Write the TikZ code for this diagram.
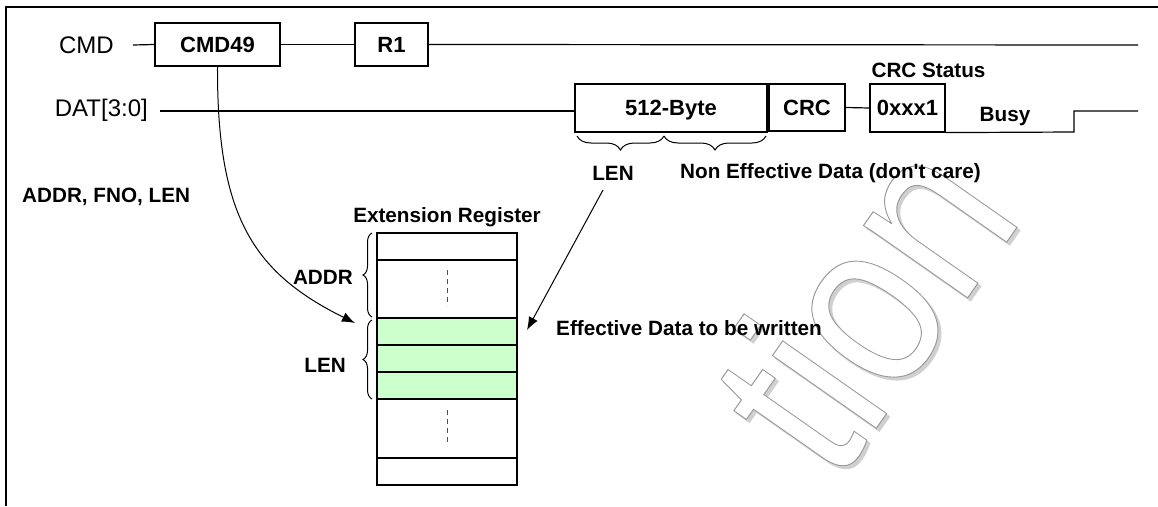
\documentclass[tikz,border=0pt]{standalone}
\usepackage{fontspec}
\setmainfont{Liberation Sans}
\usetikzlibrary{decorations.pathreplacing,arrows.meta,calc}
\definecolor{lgreen}{HTML}{CCFFCC}
\definecolor{dashgray}{HTML}{505050}
\definecolor{wmshadow}{HTML}{D0D0D0}
\begin{document}
\begin{tikzpicture}[x=1pt,y=-1pt,
  sig/.style={font=\fontsize{24}{28}\selectfont, inner sep=0pt},
  lbl/.style={font=\fontsize{20.7}{25}\selectfont\bfseries, inner sep=0pt},
  pkt/.style={draw, line width=1.2pt, font=\fontsize{22}{26}\selectfont\bfseries, inner sep=0pt, text height=15.8pt, text depth=0pt},
  wire/.style={line width=1.2pt},
  reg/.style={draw, line width=1.2pt, minimum width=140pt, inner sep=0pt},
  brc/.style={decorate, decoration={brace, amplitude=#1}, line width=1pt},
  brc/.default=9pt,
  arr/.style={line width=1pt, -{Latex[length=13pt,width=10pt]}},
  vdash/.style={draw=dashgray, line width=1pt, dash pattern=on 5pt off 4pt},
  wm/.style={inner sep=0pt, transform shape, rotate=55, xscale=0.85, font=\fontsize{240}{240}\selectfont},
]
\useasboundingbox (0,0) rectangle (1158,506);

% watermark (outlined letters with shadow)
\begin{scope}
\node[wm, text=wmshadow] (wmsh) at (863,305) {\special{pdf:literal direct 2 Tr 1 w}tion};
\end{scope}
\begin{scope}
\node[wm, text=white] (wmtx) at (860,302) {\special{pdf:literal direct 0.6 G 1 w 2 Tr}tion};
\end{scope}

% frame
\draw[line width=2pt] (6,506) -- (6,7) -- (1158,7);

% CMD line
\node[sig, anchor=east] (cmdlbl) at (114,45) {CMD};
\node[pkt, minimum width=125pt, minimum height=43pt] (cmd49) at (217.5,44.5) {CMD49};
\node[pkt, minimum width=73pt, minimum height=43pt] (r1) at (391.5,44.5) {R1};
\coordinate (cmdstart) at (133,45);
\coordinate (cmdend) at (1138,45);
\draw[wire] (cmdstart) -- (cmd49.west);
\draw[wire] (cmd49.east) -- (r1.west);
\draw[wire] (r1.east) -- (cmdend);

% DAT line
\node[sig, anchor=east] (datlbl) at (148,110) {DAT[3:0]};
\node[pkt, minimum width=192pt, minimum height=48pt] (byte) at (671,108) {512-Byte};
\node[pkt, minimum width=76pt, minimum height=47pt] (crc) at (807,107.5) {CRC};
\node[pkt, minimum width=75pt, minimum height=48pt] (stat) at (907.5,108) {0xxx1};
\coordinate (datstart) at (160,111);
\coordinate (busyA) at (1074,132);
\coordinate (busyB) at (1074,111);
\coordinate (datend) at (1138,111);
\draw[wire] (datstart) -- (datstart -| byte.west);
\draw[wire] (crc.east) -- (stat.west);
\draw[wire] (stat.south east) -- (busyA) -- (busyB) -- (datend);
\node[lbl] (crcst) at (928.5,70) {CRC Status};
\node[lbl] (busy) at (1005,117) {Busy};

% braces under 512-Byte
\coordinate (bA) at (577,136);
\coordinate (bB) at (664,136);
\coordinate (bC) at (766,136);
\draw[brc=14pt, decoration={mirror}] (bA) -- (bB);
\draw[brc=14pt, decoration={mirror}] (bB) -- (bC);
\node[lbl] (lenlbl) at (613,173) {LEN};
\node[lbl, anchor=west] (nonlbl) at (680,173) {Non Effective Data (don\textquotesingle t care)};
\node[lbl, anchor=west] (addrlbl) at (22,197) {ADDR, FNO, LEN};

% extension register
\node[lbl] (extlbl) at (447,217) {Extension Register};
\node[reg, minimum height=27pt] (row1) at (447,246.5) {};
\node[reg, minimum height=58pt] (row2) at (447,289) {};
\node[reg, minimum height=27pt, fill=lgreen] (g1) at (447,331.5) {};
\node[reg, minimum height=27pt, fill=lgreen] (g2) at (447,358.5) {};
\node[reg, minimum height=27pt, fill=lgreen] (g3) at (447,385.5) {};
\node[reg, minimum height=59pt] (row6) at (447,428.5) {};
\node[reg, minimum height=27pt] (row7) at (447,471.5) {};
\draw[vdash] (447,270) -- (447,306);
\draw[vdash] (447,410) -- (447,446);

% braces left of register
\coordinate (adB) at (372,317);
\coordinate (adT) at (372,233);
\coordinate (lnB) at (372,399);
\coordinate (lnT) at (372,320);
\draw[brc=9pt] (adB) -- (adT);
\draw[brc=9pt] (lnB) -- (lnT);
\node[lbl, anchor=east] (addr) at (353,277) {ADDR};
\node[lbl, anchor=east] (len2) at (346,365) {LEN};

% arrows
\coordinate (tip1) at (355,323);
\draw[arr] (cmd49.south) .. controls (217,215) and (252,272) .. (tip1);
\coordinate (lenfoot) at (603,190);
\coordinate (tip2) at (527,330);
\draw[arr] (lenfoot) -- (tip2);
\node[lbl, anchor=west] (efflbl) at (556,328) {Effective Data to be written};
\end{tikzpicture}
\end{document}
